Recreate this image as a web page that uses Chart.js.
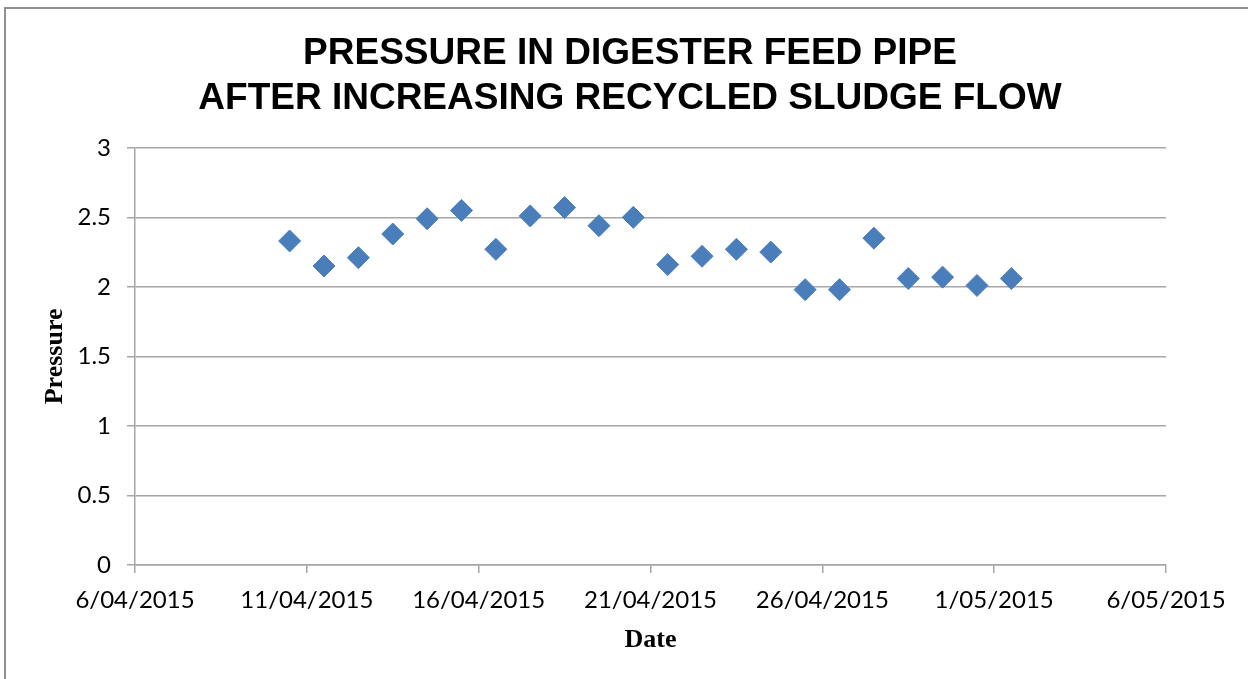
<!DOCTYPE html>
<html>
<head>
<meta charset="utf-8">
<script src="https://cdn.jsdelivr.net/npm/chart.js@4"></script>
<style>
  body { margin: 0; background: #fff; overflow: hidden; }
  #frame { position: absolute; left: 4px; top: 7px; width: 1300px; height: 720px;
           border-left: 2px solid #8f8f8f; border-top: 2px solid #8f8f8f; }
  #wrap { position: absolute; left: 0; top: 0; width: 1248px; height: 679px; }
</style>
</head>
<body>
<div id="frame"></div>
<div id="wrap"><canvas id="myChart" width="1248" height="679"></canvas></div>
<script>
// one reading a day, taken around midday
const dates = [
  '2015-04-10', '2015-04-11', '2015-04-12', '2015-04-13', '2015-04-14', '2015-04-15',
  '2015-04-16', '2015-04-17', '2015-04-18', '2015-04-19', '2015-04-20', '2015-04-21',
  '2015-04-22', '2015-04-23', '2015-04-24', '2015-04-25', '2015-04-26', '2015-04-27',
  '2015-04-28', '2015-04-29', '2015-04-30', '2015-05-01'
]
const readingHour = 12
const pressure = [
  2.33, 2.15, 2.21, 2.38, 2.49, 2.55,
  2.27, 2.51, 2.57, 2.44, 2.50, 2.16,
  2.22, 2.27, 2.25, 1.98, 1.98, 2.35,
  2.06, 2.07, 2.01, 2.06
]
const xTicks = ['2015-04-06', '2015-04-11', '2015-04-16', '2015-04-21', '2015-04-26', '2015-05-01', '2015-05-06']
const yTicks = [0, 0.5, 1, 1.5, 2, 2.5, 3]

const chartTitle = ['PRESSURE IN DIGESTER FEED PIPE', 'AFTER INCREASING RECYCLED SLUDGE FLOW']
const GRID = '#a6a6a6'

// spreadsheet style day numbers (days since 30/12/1899)
function toSerial(dateStr, hour) {
  const p = dateStr.split('-').map(Number)
  const ms = Date.UTC(p[0], p[1] - 1, p[2]) - Date.UTC(1899, 11, 30)
  return ms / 86400000 + (hour || 0) / 24
}

function serialLabel(serial) {
  const d = new Date(Date.UTC(1899, 11, 30) + Math.round(serial) * 86400000)
  const mm = String(d.getUTCMonth() + 1).padStart(2, '0')
  return d.getUTCDate() + '/' + mm + '/' + d.getUTCFullYear()
}

const points = dates.map((d, i) => ({ x: toSerial(d, readingHour), y: pressure[i] }))
const xTickValues = xTicks.map(d => toSerial(d))

const ctx = document.getElementById('myChart')
const myChart = new Chart(ctx, {
  type: 'scatter',
  data: {
    datasets: [{
      label: 'Pressure',
      data: points,
      pointStyle: 'rectRot',
      pointRadius: 11,
      pointHoverRadius: 11,
      backgroundColor: '#4a7ebb',
      borderColor: '#4a7ebb',
      borderWidth: 1
    }]
  },
  options: {
    responsive: false,
    animation: false,
    layout: { padding: { left: 12, right: 0, top: 0, bottom: 0 } },
    plugins: {
      legend: { display: false },
      tooltip: { enabled: false },
      title: {
        display: true,
        text: chartTitle,
        color: '#000',
        font: { family: 'Liberation Sans', size: 37, weight: 'bold', lineHeight: 1.2 },
        padding: { top: 32, bottom: 27 }
      }
    },
    scales: {
      x: {
        type: 'linear',
        min: xTickValues[0],
        max: xTickValues[xTickValues.length - 1],
        afterFit: s => { s.height = 114 },
        afterBuildTicks: s => { s.ticks = xTickValues.map(v => ({ value: v })) },
        ticks: {
          callback: v => serialLabel(v),
          color: '#000',
          font: { family: 'Lato', size: 24 },
          padding: 13,
          maxRotation: 0,
          autoSkip: false
        },
        grid: { drawOnChartArea: false, tickLength: 8, color: GRID, lineWidth: 1.5 },
        border: { color: GRID, width: 1.5 },
        title: {
          display: true,
          text: 'Date',
          color: '#000',
          font: { family: 'Liberation Serif', size: 26, weight: 'bold' },
          padding: { top: 0, bottom: 23 }
        }
      },
      y: {
        min: 0,
        max: 3,
        afterFit: s => { s.width = 123 },
        afterBuildTicks: s => { s.ticks = yTicks.map(v => ({ value: v })) },
        ticks: {
          callback: v => String(v),
          color: '#000',
          font: { family: 'Lato', size: 24 },
          padding: 16
        },
        grid: { tickLength: 8, color: GRID, lineWidth: 1.5 },
        border: { color: GRID, width: 1.5 },
        title: {
          display: true,
          text: 'Pressure',
          color: '#000',
          font: { family: 'Liberation Serif', size: 26, weight: 'bold' },
          padding: { top: 28, bottom: 0 }
        }
      },
      // empty strip on the right so the plot ends where the reference does
      spacer: {
        type: 'linear',
        position: 'right',
        display: true,
        afterFit: s => { s.width = 82 },
        ticks: { display: false },
        grid: { display: false },
        border: { display: false }
      }
    }
  }
})
</script>
</body>
</html>
